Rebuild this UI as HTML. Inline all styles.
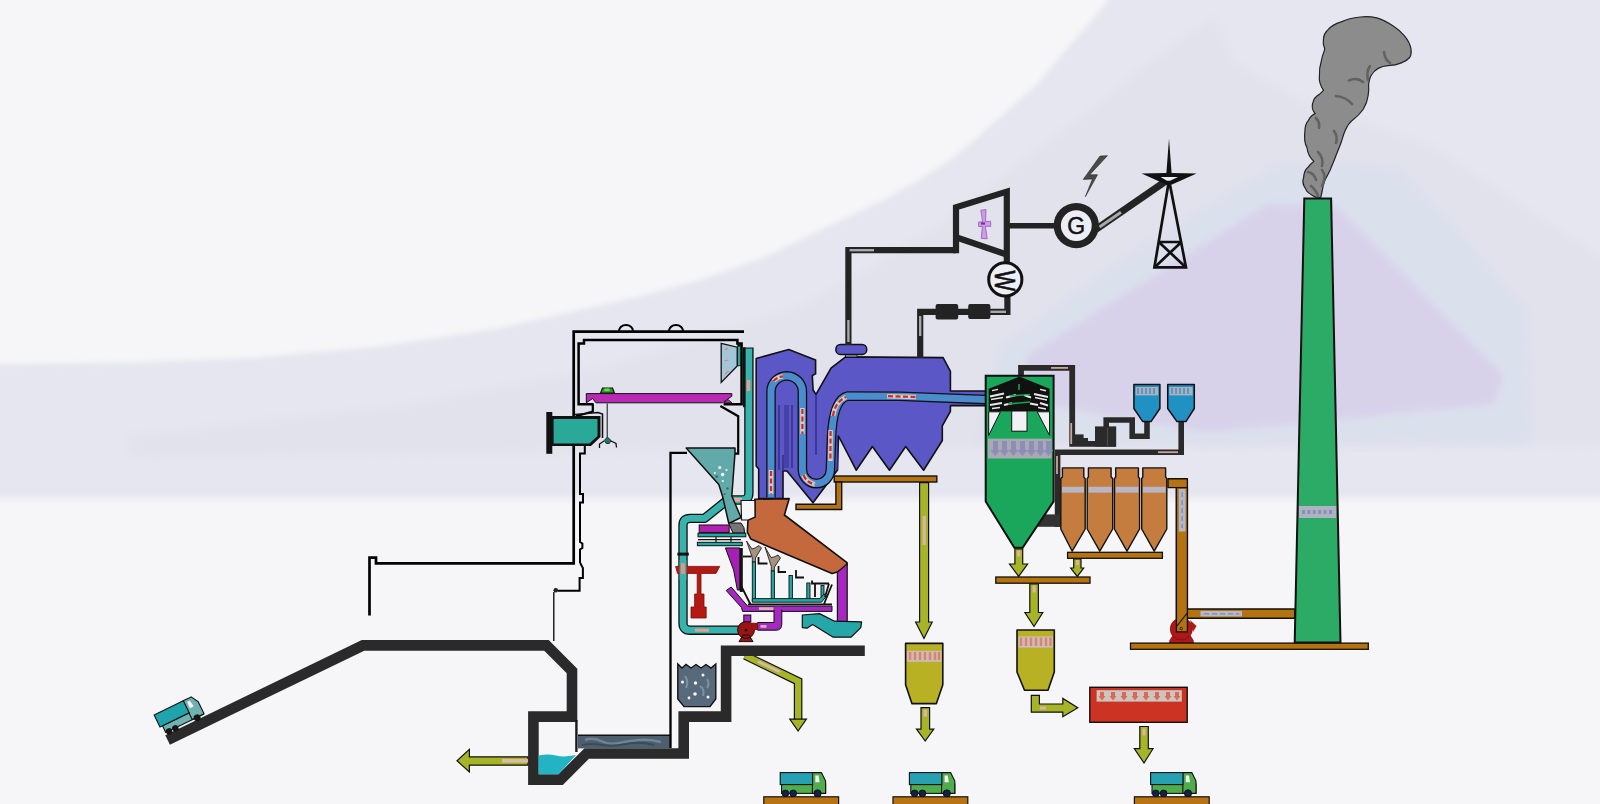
<!DOCTYPE html>
<html lang="en"><head><meta charset="utf-8"><title>Waste-to-energy plant</title>
<style>html,body{margin:0;padding:0;background:#f6f5f7;overflow:hidden}svg{display:block}</style>
</head><body>
<svg width="1600" height="804" viewBox="0 0 1600 804">
<!-- BACKGROUND -->
<defs>
<linearGradient id="fade" x1="0" y1="0" x2="0" y2="1"><stop offset="0" stop-color="#f6f5f7" stop-opacity="0"/><stop offset="1" stop-color="#f6f5f7" stop-opacity="1"/></linearGradient>
<filter id="soft" x="-5%" y="-10%" width="110%" height="120%"><feGaussianBlur stdDeviation="6"/></filter>
<filter id="soft2" x="-5%" y="-5%" width="110%" height="110%"><feGaussianBlur stdDeviation="2.5"/></filter>
<filter id="soft3" x="-5%" y="-10%" width="110%" height="120%"><feGaussianBlur stdDeviation="3.5"/></filter>
</defs>
<rect x="0" y="0" width="1600" height="804" fill="#f6f5f7"/>
<path filter="url(#soft2)" d="M-10,364 L0,364 L125,362.5 L250,358 L375,347 L450,336 L500,328 L575,311 L637,297 L700,280 L762,258 L825,228 L850,216 L887,198 L912,184 L950,160 L974,140 L1005,113 L1037,84 L1068,47 L1099,12 L1112,-6 L1610,-6 L1610,520 L-10,520 Z" fill="#e6e6f0"/>
<path filter="url(#soft)" d="M127,436 L410,404 L600,368 L800,306 L880,262 L953,215 L1037,149 L1099,103 L1161,53 L1215,15 L1232,60 L1300,100 L1432,146 L1610,262 L1610,446 L900,448 L127,458 Z" fill="#e2e2ec"/>
<path filter="url(#soft)" d="M975,444 L1000,345 L1150,238 L1280,162 L1400,166 L1530,312 L1532,444 Z" fill="#dbe0ed"/>
<path filter="url(#soft3)" d="M1027,356 L1268,204 L1336,206 L1504,376 L1494,404 L1208,432 L1027,402 Z" fill="#d8d1ea"/>
<rect x="0" y="493" width="1600" height="11" fill="url(#fade)"/>
<rect x="0" y="503.5" width="1600" height="26" fill="#f6f5f7"/>
<!-- OLIVE ARROWS UNDER PLATFORM -->
<g stroke-linejoin="miter">
<path d="M745,655.5 L798.1,681.3 L798.1,720" fill="none" stroke="#111" stroke-width="8.6"/>
<path d="M745,655.5 L798.1,681.3 L798.1,720" fill="none" stroke="#a6b528" stroke-width="6.2"/>
<path d="M758,661.5 L780,672" fill="none" stroke="#d8b8a8" stroke-width="2.6"/>
<path d="M789.8,719.2 L806.4,719.2 L798.1,731 Z" fill="#a6b528" stroke="#111" stroke-width="1.2"/>
<!-- left arrow -->
<path d="M528,756.8 L469.4,756.8 L469.4,749.4 L457,760.8 L469.4,771.9 L469.4,765.2 L528,765.2 Z" fill="#a6b528" stroke="#111" stroke-width="1.2"/>
<rect x="502" y="759" width="26" height="3.6" fill="#dcb9a8"/>
</g>
<!-- RAMP + PIT WALLS -->
<path d="M167.6,740 L363,645.4 L546.5,645.4 L572,671 L572,716.6 L533.4,716.6 L533.4,779.6 L560.6,779.6 L586.7,753.5 L683.7,753.5 L683.7,716.6 L726.1,716.6 L726.1,650.7 L864.8,650.7" fill="none" stroke="#2a2a2a" stroke-width="10.6" stroke-linejoin="miter"/>
<path d="M576.4,720 L576.4,752" stroke="#1a1a1a" stroke-width="2.4" fill="none"/>
<!-- water -->
<path d="M538.7,755.5 Q548,753.5 556,755.5 T576,755 L558.5,774.3 L538.7,774.3 Z" fill="#22b4c4"/>
<!-- slag channel -->
<rect x="578" y="735.2" width="92" height="13.2" fill="#4d5f6e"/>
<path d="M578,735.2 L670,735.2" stroke="#111" stroke-width="1.4"/>
<path d="M585,740 q8,-3 16,1 t18,2 t20,-3 t22,2" fill="none" stroke="#6f8494" stroke-width="2.5"/>
<path d="M582,745 q10,-2 20,0 t24,-1 t28,1" fill="none" stroke="#3c4b59" stroke-width="2"/>
<!-- slag bin -->
<path d="M677.8,664 L677.8,699 L684,706.6 L710,706.6 L715.8,699 L715.8,664 L711,668 L706,664.5 L701,668 L696,664.5 L691,668 L686,664.5 L682,668 Z" fill="#566a7b" stroke="#111" stroke-width="1.4"/>
<g fill="#f4f4f4"><circle cx="682.5" cy="682" r="1.6"/><circle cx="695.5" cy="683" r="1.7"/><circle cx="703" cy="675" r="1.5"/><circle cx="695" cy="694" r="1.8"/><circle cx="689" cy="698" r="1.4"/><circle cx="708" cy="697" r="1.5"/></g>
<path d="M685,676 q4,6 1,12 M700,686 q5,3 3,10 M707,679 q3,5 0,9" fill="none" stroke="#7d92a2" stroke-width="2"/>
<!-- long thin inner wall -->
<path d="M687,452.8 L670.5,452.8 L670.5,748" fill="none" stroke="#000" stroke-width="2.3"/>
<!-- BUILDING OUTLINES -->
<g fill="none" stroke="#000" stroke-linejoin="miter">
<path d="M744,331.7 L573.7,331.7 L573.7,563.4 L376,563.4 L376,557.6 L369.5,557.6 L369.5,615.5" stroke-width="2.7"/>
<path d="M619,331 a7,6 0 0 1 14,0 M669,331 a7,6 0 0 1 14,0" stroke-width="2.2"/>
<path d="M593.6,404.3 L578.6,404.3 L578.6,343.4 L584,343.4 L584,340.1 L737.4,340.1 L737.4,343.4 L741.6,343.4 L741.6,404.3 L723.6,404.3" stroke-width="2.5"/>
<path d="M592.8,404.3 L592.8,411.5 L576,416.2" stroke-width="2.2"/>
<path d="M720.4,406 L738.2,416.2 L738.2,453.6 L732.6,453.6" stroke-width="2.2"/>
<path d="M584.8,446 L584.8,453.6 L580,453.6 L580,494 L583,494 L583,502.4 L580,502.4 L580,542 L582.4,543.5 L582.4,548 L580,549.5 L580,563 M580.2,563 L582.9,568 L582.9,578 L579.6,578 L579.6,590.8 L558,590.8" stroke-width="2"/>
<path d="M553.8,592 L553.8,641" stroke-width="1.3"/>
</g>
<circle cx="555.8" cy="590.2" r="2.3" fill="#222"/>
<!-- teal door box -->
<rect x="546.3" y="412" width="6" height="41.8" fill="#111"/>
<path d="M552,416 L600.5,416 L600.5,437 L591,446 L552,446 Z" fill="#111"/>
<path d="M553.6,419 L597.5,419 L597.5,436 L589.4,443.4 L553.6,443.4 Z" fill="#2aa898"/>
<path d="M575,414.5 L598,412.5 L602.5,414 L602.5,438" fill="none" stroke="#111" stroke-width="1.6"/>
<!-- magenta crane beam -->
<path d="M586.3,393.6 L731.8,393.6 L731.8,396.2 L722.5,402.8 L596,402.8 L592.5,398.5 L586.3,402.8 Z" fill="#b82ab4" stroke="#111" stroke-width="1"/>
<path d="M724,402.8 L728,399.5 L732,402.8 Z" fill="#b82ab4" stroke="#111" stroke-width="0.8"/>
<!-- trolley -->
<path d="M600.5,393.2 L602.5,388 L612.5,388 L614.5,393.2 Z" fill="#2f9a2f" stroke="#111" stroke-width="1.2"/>
<rect x="604.5" y="388.5" width="5" height="2.6" fill="#5fe04f"/>
<path d="M607.2,403.5 L607.2,437" stroke="#111" stroke-width="1"/>
<path d="M607.3,437 l-3,3.5 l2,3 l3,0 l1.8,-3 Z" fill="#1a7a5a" stroke="#111" stroke-width="0.8"/>
<path d="M604,441 l-4.5,3 l0,4 M611,441 l5,2.5 l0.5,4" fill="none" stroke="#111" stroke-width="1.3"/>
<!-- air intake cone -->
<path d="M721.2,343.4 L737.2,347.2 L737.2,366 L721.2,382.4 Z" fill="#a3c6d8" stroke="#111" stroke-width="1.3"/>
<rect x="737.3" y="343.2" width="3.6" height="23" fill="#111"/><rect x="738" y="346.6" width="2.2" height="18.8" fill="#2aa89a"/>
<path d="M725,350 l3,-2 M724.5,361 l4,-1 M725,374 l3.5,-3" stroke="#e08070" stroke-width="1.2" fill="none"/>
<!-- BOILER -->
<path d="M756.2,358.4 L788.7,349.5 L815.6,360 L815.6,373.9 L812.3,375.5 L813.1,390 L816,394.4 L831,368.2 L845.6,356.9 L943.1,357.6 L950.4,371.4 L950.4,391 L985.6,391 L985.6,405.6 L950.4,405.6 L950.4,411.3 L942.3,425.9 L942.3,440.5 L923.6,470.2 L905.7,446.5 L889.5,470.2 L872.4,446.5 L856.2,470.2 L838.5,436 L837.5,470 L813,502.8 L787,471 L783,471 L783,498.6 L758.7,498.6 L758.7,469 L756.2,466 Z" fill="#5b57c6" stroke="#111" stroke-width="1.6" stroke-linejoin="round"/>
<path d="M816,394.4 L816,455 M837.5,436 L837.5,470 M779,405 L779,470 M792,405 L792,468 M783,471 L783,455" stroke="#2c2a80" stroke-width="1.3" fill="none"/>
<path d="M786.5,405 L786.5,468" stroke="#4640a8" stroke-width="5" fill="none"/>
<!-- flue channels -->
<path id="ch" d="M771,497.5 L771,391.6 A15.7,15.7 0 0 1 802.4,391.6 L802.4,469.6 A14,14 0 0 0 830.4,469.6 L831.5,438 Q833,399 848,396 L900,396.3 L985.6,399.6" fill="none" stroke="#111" stroke-width="9.6"/>
<path d="M771,497.5 L771,391.6 A15.7,15.7 0 0 1 802.4,391.6 L802.4,469.6 A14,14 0 0 0 830.4,469.6 L831.5,438 Q833,399 848,396 L900,396.3 L985.6,399.6" fill="none" stroke="#4a8ccc" stroke-width="7"/>
<!-- arrow patches -->
<g fill="none" stroke="#d4c8c8" stroke-width="4.6">
<path d="M771,470 L771,494"/><path d="M773.5,381 Q777,377 783,376.3"/><path d="M802.4,408 L802.4,434"/><path d="M803.5,475 Q807,483 815,484.4"/><path d="M830.6,430 L830.4,461"/><path d="M833,416 Q835,402 846,397"/><path d="M887,396.2 L916,397"/>
</g>
<g fill="none" stroke="#d22a22" stroke-width="2.2" stroke-dasharray="5 2.5">
<path d="M771,471 L771,494"/><path d="M773.5,381 Q777,377 783,376.3"/><path d="M802.4,409 L802.4,434"/><path d="M803.5,475 Q807,483 815,484.4"/><path d="M830.6,431 L830.4,461"/><path d="M833,416 Q835,402 846,397"/><path d="M888,396.2 L916,397"/>
</g>
<!-- steam drum -->
<rect x="845.6" y="353.4" width="11.4" height="3.6" fill="#9a98c8" stroke="#111" stroke-width="0.8"/>
<rect x="835.9" y="344.4" width="30.8" height="10" rx="4.5" fill="#5b57c6" stroke="#111" stroke-width="1.5"/>
<!-- teal supply pipe (right of bunker) -->
<g fill="none" stroke-linejoin="round">
<path d="M748.9,347.5 L748.9,493 Q748.9,500 742,500 L727.5,500 L704.5,518.4 L690,518.4 Q683,518.4 683,525.4 L683,623 Q683,630.2 690,630.2 L739,630.2" stroke="#111" stroke-width="9.4"/>
<path d="M748.9,348.6 L748.9,493 Q748.9,500 742,500 L727.5,500 L704.5,518.4 L690,518.4 Q683,518.4 683,525.4 L683,623 Q683,630.2 690,630.2 L739,630.2" stroke="#38b2ac" stroke-width="6.8"/>
</g>
<rect x="743" y="347.2" width="2.2" height="60" fill="#111"/>
<rect x="746.8" y="380" width="3.4" height="11" fill="#e0a090"/>
<rect x="733" y="497.8" width="9" height="4" fill="#e0a8a0"/>
<rect x="681" y="563" width="4" height="12" fill="#d89888"/>
<path d="M695,630.2 L709,630.2" stroke="#e0a090" stroke-width="3"/>
<rect x="677.4" y="552.6" width="11.4" height="3" fill="#111"/>
<!-- hopper -->
<path d="M686.2,448 L735,448 L735,453 L731.8,496 L741,517.5 L728.8,523.5 L722.6,496.5 L718.8,484.5 Z" fill="#62a9a9" stroke="#111" stroke-width="1.5" stroke-linejoin="round"/>
<g fill="#f2f2f2"><circle cx="719.8" cy="467.5" r="1.6"/><circle cx="722.6" cy="474.6" r="1.8"/><circle cx="726.5" cy="470" r="1.1"/><circle cx="714.8" cy="473" r="1"/><circle cx="722.8" cy="481" r="1.1"/></g>
<g fill="#3d6f70"><circle cx="716.6" cy="476.6" r="1.3"/><circle cx="727.5" cy="488.5" r="1.3"/><circle cx="724.6" cy="494" r="1"/></g>
<!-- FURNACE -->
<path d="M754.9,499.2 L789.2,498.6 L784.4,515 L847,562.6 Q847.5,566 844,568 L837.4,572 L832,573.6 L750.8,539 L747.3,532 L748,520 L755,517 Z" fill="#c4683e" stroke="#111" stroke-width="1.6" stroke-linejoin="round"/>
<!-- white throat box -->
<path d="M741,500.5 L754.9,500.5 L755,517 L748,520 L741.5,520 Z" fill="#f6f5f7" stroke="#111" stroke-width="1.2"/>
<!-- feeder -->
<rect x="699.2" y="525" width="30" height="7.4" fill="#b421b0" stroke="#111" stroke-width="1"/>
<path d="M728.6,523 L741,523 Q745,527 744.6,533 L733,533 Z" fill="#757575" stroke="#111" stroke-width="1"/>
<rect x="698" y="533.2" width="47.8" height="3.6" fill="#23a7a7" stroke="#111" stroke-width="1"/>
<rect x="697.4" y="542.3" width="44.8" height="3.4" fill="#23a7a7" stroke="#111" stroke-width="1"/>
<path d="M698,539.6 L741,539.6 M716,537 L716,542 M731,537 L731,542" stroke="#111" stroke-width="1.2" fill="none"/>
<!-- purple funnel -->
<path d="M725.4,547.9 L739.8,547.9 L739.8,590 L737.4,590 L733.6,570 Z" fill="#a51fb5" stroke="#111" stroke-width="1"/>
<rect x="739.8" y="548" width="3" height="44" fill="#111"/>
<!-- Y nozzles -->
<g fill="#a39280" stroke="#111" stroke-width="0.8">
<path d="M746.5,541 L752,549 L755,548 L759,545.5 L761.5,548 L755.5,558 L755.3,562 L752.3,562 L752.3,557.5 Z"/>
<path d="M765,547 L771,557.5 L774,557 L778,555 L780.5,558 L774.5,567 L774.3,571 L771.3,571 L771.3,566.5 Z"/>
</g>
<!-- teal thin pipes -->
<g fill="#23a7a7" stroke="#111" stroke-width="0.9">
<rect x="752.3" y="562" width="3.2" height="39"/><rect x="771.2" y="571" width="3.2" height="30"/><rect x="789" y="575.5" width="3.4" height="25.5"/><rect x="806.8" y="583" width="3.2" height="18"/><rect x="821" y="585.5" width="3" height="13"/>
<path d="M752.3,598.6 L820,598.6 L824,594 L826.5,596 L821.5,602.2 L752.3,602.2 Z"/>
</g>
<!-- black brackets -->
<g fill="none" stroke="#111" stroke-width="1.8">
<path d="M743,556.5 L751.5,556.5"/><path d="M758.5,557 L758.5,563.5 L767.5,563.5"/><path d="M778.5,566 L778.5,572 L786,572"/><path d="M796,570 L796,577.5 L804,577.5"/><path d="M812,580.5 L812,583.5 L829,583.5 M815,583.5 L815,597 M829,583.5 L825,597"/>
<path d="M741.2,586 L750.8,605 M832,584.5 L823.6,605 M748,604.4 L832,604.4"/>
</g>
<!-- purple pipes -->
<g>
<path d="M837.4,572.2 L847.2,563.8 L847.2,621.5 L837.4,621.5 Z" fill="#a528c0" stroke="#111" stroke-width="1.2"/>
<path d="M726.2,590.5 L741.5,607.5 L742.5,611.4 L832,611.4 L832,606 L781.8,606 L774,606 L747.5,606 L731.2,587 Z" fill="#a528c0" stroke="#111" stroke-width="1"/>
<path d="M774,610 L774,622.5 L757.6,622.5 L757.6,630.2 L776,630.2 Q781.8,630.2 781.8,624 L781.8,610 Z" fill="#a528c0" stroke="#111" stroke-width="1"/>
<rect x="774.6" y="606.6" width="6.6" height="5" fill="#a528c0"/>
<rect x="759" y="607.2" width="14.5" height="2.8" fill="#d8b0b8"/>
<rect x="760.5" y="625" width="6" height="2.8" fill="#d8b0b8"/>
<rect x="743.8" y="615" width="7" height="7" fill="#a528c0" stroke="#111" stroke-width="1"/>
</g>
<!-- pump -->
<path d="M739,641.6 L743,635 L749,635 L753,641.6 Z M737.6,630 a8.4,8.4 0 1 1 16.8,0 a8.4,8.4 0 1 1 -16.8,0 Z" fill="#9c1412" stroke="#111" stroke-width="1"/>
<path d="M746,622.8 L757.6,622.8 L757.6,630 L746,630 Z" fill="#9c1412"/>
<circle cx="746" cy="630.2" r="1.4" fill="#111"/>
<!-- red ram -->
<path d="M675.6,566.4 L719.8,566.4 L716,573.4 L701,573.4 L701,594 L704,594 L704,607 L706.2,607 L706.2,618 L691,618 L691,607 L694.6,607 L694.6,594 L697.2,594 L697.2,573.4 L677.5,573.4 Z" fill="#b41a14" stroke="#7a0e0a" stroke-width="0.8"/>
<!-- redraw pipe over ram -->
<path d="M683,560 L683,580" stroke="#38b2ac" stroke-width="6.8"/><rect x="681" y="563" width="4" height="11" fill="#d89888"/>
<!-- ash chute -->
<path d="M802.3,615 L819.5,613.6 L834.6,621.2 L861.6,621.9 L860.8,627.6 L851,637.2 L833.2,637.2 L812.6,624.6 L807,628.2 L802.3,627.6 Z" fill="#25a7a7" stroke="#111" stroke-width="1.2" stroke-linejoin="round"/>
<!-- boiler support platform -->
<g fill="#b47210" stroke="#111" stroke-width="1.4">
<rect x="834.2" y="476" width="102.6" height="6"/>
<path d="M835.9,482 L841.7,482 L841.7,509.5 L796,509.5 L796,504.2 L835.9,504.2 Z"/>
</g>
<!-- STEAM PIPES / TURBINE -->
<g fill="none" stroke="#232323" stroke-linejoin="miter">
<path d="M848.4,345 L848.4,250.2 L956,250.2" stroke-width="6.2"/>
<path d="M920.2,358 L920.2,311.8 L1007.4,311.8 L1007.4,296" stroke-width="6.2"/>
<path d="M956,253.2 L956,207.3 L1006.8,191.6 L1006.8,264" stroke-width="6.2"/>
<path d="M956,237.3 L1008,255" stroke-width="6.2"/>
<path d="M1009,225.8 L1057,225.8" stroke-width="5.6"/>
<path d="M1095.5,229.6 L1168,179.6" stroke-width="7.2"/>
</g>
<g fill="none" stroke="#a8a8ac" stroke-width="2.4">
<path d="M849.5,250.2 L874,250.2"/><path d="M848.4,320 L848.4,342"/><path d="M920.2,316 L920.2,336"/><path d="M984,311.8 L1006,311.8"/><path d="M1099.5,227 L1121,212.2" stroke-width="3"/>
</g>
<rect x="935.6" y="304" width="22.6" height="15.6" rx="2" fill="#232323"/>
<rect x="968.2" y="304" width="22.2" height="15" rx="2" fill="#232323"/>
<!-- propeller -->
<path d="M980.8,210.2 L986,209.6 L985.6,221.6 L990.6,221.2 L990.8,226.4 L985.4,226.2 L987.2,238.8 L981.2,238.4 L982.4,226.4 L978.6,226.6 L978.6,222 L982.6,221.8 Z" fill="#cf9be6" stroke="#8a4ab0" stroke-width="0.7"/><rect x="981" y="222.4" width="4" height="2.2" fill="#7a2a9a"/>
<!-- generator -->
<circle cx="1076.3" cy="225.6" r="19" fill="#eceef6" stroke="#232323" stroke-width="7.2"/>
<text x="1076.3" y="233.6" text-anchor="middle" font-family="'Liberation Sans',sans-serif" font-size="23" fill="#111" stroke="#111" stroke-width="0.5">G</text>
<!-- condenser -->
<circle cx="1005.3" cy="279.4" r="16.6" fill="#eeeff6" stroke="#111" stroke-width="3"/>
<text transform="translate(994.8,270.6) rotate(90) scale(0.97,1.32)" x="0" y="0" font-family="'Liberation Sans',sans-serif" font-size="22.5" fill="#111" stroke="#111" stroke-width="0.5">W</text>
<!-- lightning -->
<path d="M1100,156.1 L1107.4,155.7 L1089.7,174.8 L1097.5,174.8 L1085.4,196.6 L1092.5,178.9 L1083.2,179.4 Z" fill="#4a4a4a" stroke="#222" stroke-width="0.6"/>
<!-- pylon -->
<path d="M1169,138.4 L1171.6,173 L1196.6,173.4 L1172,184.4 L1166,184.4 L1141.6,173.4 L1166.4,173 Z" fill="#111"/>
<path d="M1160.5,177 L1178,177 L1170,180.8 L1167,180.8 Z" fill="#eceef6"/>
<g fill="none" stroke="#111" stroke-width="2.7">
<path d="M1168.4,184 L1154.4,267.4 L1186,267.4 L1169.8,184"/><path d="M1158.8,242 L1181.4,242 M1158.8,242 L1186,267.4 M1181.4,242 L1154.4,267.4"/>
</g>
<!-- SCRUBBER -->
<g fill="none" stroke="#2a2a2a" stroke-linejoin="miter">
<path d="M1021,377 L1021,367.9 L1072.2,367.9 L1072.2,443.8 L1116,443.8" stroke-width="5.8"/>
<path d="M1106.2,444 L1106.2,420 L1132.2,420 L1132.2,436.2 L1147,436.2 L1147,421" stroke-width="5.6"/>
<path d="M1181.2,421 L1181.2,452.2 L1057.6,452.2 L1057.6,527" stroke-width="5.6"/>
</g>
<rect x="1074" y="434.4" width="9.6" height="8" fill="#2a2a2a"/><rect x="1080" y="438" width="8" height="6" fill="#2a2a2a"/>
<rect x="1095" y="426.4" width="21.2" height="20.2" fill="#2a2a2a"/>
<path d="M1107.5,428 L1107.5,446" stroke="#4a4a4a" stroke-width="1.2"/>
<rect x="1036" y="514.4" width="24.6" height="12.4" fill="#333"/>
<g fill="none" stroke="#c8a89a" stroke-width="1.8"><path d="M1051,367.9 L1068,367.9"/><path d="M1071.2,423 L1071.2,444"/><path d="M1158,452.2 L1178,452.2"/><path d="M1057,456 L1057,474"/></g>
<path d="M985.7,375.8 L1053.6,375.8 L1053.6,501.4 L1022.6,547.8 L1014.4,547.8 L985.7,501.4 Z" fill="#1aa75c" stroke="#111" stroke-width="2"/>
<path d="M988.7,388.7 L1019.5,376.6 L1049.6,388.7 L1049.6,392.2 L988.7,392.2 Z" fill="#111"/>
<rect x="988.7" y="392" width="60.9" height="19.4" fill="#111"/>
<g stroke="#e8e8e8" stroke-width="2" fill="none">
<path d="M990,396.5 L1004,393.5 M1006,397.5 L1016,395 M1034,394 L1048,397 M1024,395 L1031,397.5"/>
<path d="M990,405 L1002,403 M1004,405 L1012,403.2 M1030,403.4 L1038,405 M1040,403 L1048,405.5"/>
</g>
<g stroke="#e8e8e8" stroke-width="1.4" fill="none"><path d="M991,399.5 L1003,397.5 M1035,397.5 L1047,400 M992,408.5 L1000,407.5 M1038,407.5 L1046,409 M992,390.6 L998,389.4 M1040,389.4 L1046,390.8"/></g>
<g stroke="#18a050" stroke-width="1.6" fill="none"><path d="M1010,396 L1030,394.5 M1008,404 L1030,402 M1019,384 L1019,390"/></g>
<path d="M988.7,411.8 L1000.4,411.8 L988.7,435.4 Z M1037.2,411.8 L1049.6,411.8 L1049.6,435.4 Z" fill="#f2f2f6" stroke="#111" stroke-width="1"/>
<rect x="1011.7" y="411" width="15.3" height="20.2" fill="#f2f2f6" stroke="#111" stroke-width="1"/>
<rect x="988" y="438.7" width="63.6" height="19.8" fill="#a9a9b3"/>
<g fill="#8d8db8"><path d="M991,441 h5 v9 h2.4 l-5,6 l-5,-6 h2.6z" transform="translate(2,0)"/><path d="M991,441 h5 v9 h2.4 l-5,6 l-5,-6 h2.6z" transform="translate(11,0)"/><path d="M991,441 h5 v9 h2.4 l-5,6 l-5,-6 h2.6z" transform="translate(20,0)"/><path d="M991,441 h5 v9 h2.4 l-5,6 l-5,-6 h2.6z" transform="translate(29,0)"/><path d="M991,441 h5 v9 h2.4 l-5,6 l-5,-6 h2.6z" transform="translate(38,0)"/><path d="M991,441 h5 v9 h2.4 l-5,6 l-5,-6 h2.6z" transform="translate(47,0)"/><path d="M991,441 h5 v9 h2.4 l-5,6 l-5,-6 h2.6z" transform="translate(55,0)"/></g>
<!-- blue reagent hoppers -->
<g fill="#2190c2" stroke="#111" stroke-width="1.5" stroke-linejoin="round">
<path d="M1133.9,384.4 L1159.9,384.4 L1159.9,408.5 L1151,421.6 L1142.8,421.6 L1133.9,408.5 Z"/>
<path d="M1167.7,384.4 L1194.3,384.4 L1194.3,408.5 L1185.9,421.6 L1177,421.6 L1167.7,408.5 Z"/>
</g>
<rect x="1135.6" y="387" width="22.6" height="8.4" fill="#9fb6c8"/><rect x="1169.4" y="387" width="23.2" height="8.4" fill="#9fb6c8"/>
<path d="M1138,388 v6 M1142,388 v6 M1146,388 v6 M1150,388 v6 M1154,388 v6 M1172,388 v6 M1176,388 v6 M1180,388 v6 M1184,388 v6 M1188,388 v6" stroke="#6a84a8" stroke-width="1.6"/>
<!-- BAG FILTERS -->
<g fill="#c57d3f" stroke="#111" stroke-width="1.4" stroke-linejoin="round">
<path d="M1062.4,467.9 L1083.8,467.9 L1083.8,477 L1085.2,478.6 L1085.2,529 L1072.2,551.2 L1060.8,529 L1060.8,478.6 L1062.4,477 Z"/>
<path d="M1088.4,467.9 L1111.1,467.9 L1111.1,477 L1112.7,478.6 L1112.7,529 L1099.8,551.2 L1087.2,529 L1087.2,478.6 L1088.4,477 Z"/>
<path d="M1115.7,467.9 L1138.4,467.9 L1138.4,477 L1139.6,478.6 L1139.6,529 L1127,551.2 L1114.4,529 L1114.4,478.6 L1115.7,477 Z"/>
<path d="M1142.8,467.9 L1165.6,467.9 L1165.6,477 L1166.8,478.6 L1166.8,529 L1154.2,551.2 L1141.7,529 L1141.7,478.6 L1142.8,477 Z"/>
</g>
<g fill="#b9b7c6"><rect x="1062" y="486.8" width="22" height="5.8"/><rect x="1088.6" y="486.8" width="23" height="5.8"/><rect x="1115.8" y="486.8" width="22.6" height="5.8"/><rect x="1143" y="486.8" width="22.6" height="5.8"/></g>
<rect x="1067.6" y="552.3" width="94.8" height="6" fill="#b47210" stroke="#111" stroke-width="1.3"/>
<rect x="995.8" y="577" width="94.2" height="6.2" fill="#b47210" stroke="#111" stroke-width="1.3"/>
<!-- duct to fan -->
<path d="M1168,478.7 L1187.4,478.7 L1187.4,609 L1294.7,609 L1294.7,618.2 L1187.4,618.2 L1187.4,620 L1176.4,626 L1176.4,487.6 L1168,487.6 Z" fill="#b47210" stroke="#111" stroke-width="1.4" stroke-linejoin="round"/>
<!-- fan -->
<path d="M1170,640 L1174,634 L1189,634 L1193,640 L1193.5,643 L1169.5,643 Z" fill="#b01818" stroke="#7c0c0c" stroke-width="0.8"/>
<path d="M1170.3,629 a11,11 0 1 1 22,0 a11,11 0 1 1 -22,0 Z" fill="#b01818" stroke="#7c0c0c" stroke-width="0.8"/>
<path d="M1190,620 L1196.5,626 L1193,632 Z" fill="#b01818"/>
<path d="M1176.4,487.6 L1187.4,487.6 L1187.4,612 L1187.4,631.8 L1176.4,631.8 Z" fill="#b47210" stroke="#111" stroke-width="1.3"/>
<path d="M1177,626 L1188,612" stroke="#111" stroke-width="1.2"/>
<circle cx="1181.2" cy="628.6" r="1.3" fill="none" stroke="#111" stroke-width="0.8"/>
<rect x="1178.8" y="489" width="6.8" height="42.5" fill="#b4b8c4"/>
<rect x="1200.5" y="611" width="41.5" height="5.4" fill="#b4b8c8"/>
<path d="M1182.2,492 v36 M1204,613.7 h35" stroke="#8890b8" stroke-width="1.6" stroke-dasharray="5 3"/>
<!-- chimney platform -->
<rect x="1130.5" y="643.1" width="237.8" height="6.2" fill="#b47210" stroke="#111" stroke-width="1.3"/>
<!-- CHIMNEY -->
<path d="M1304.3,198.4 L1331.1,198.4 L1340.5,642.6 L1294.7,642.6 Z" fill="#2bab65" stroke="#111" stroke-width="2" stroke-linejoin="miter"/>
<rect x="1299" y="506" width="37.2" height="12" fill="#adb3c2"/>
<path d="M1302,512 h32" stroke="#8890b8" stroke-width="4" stroke-dasharray="3 2.4"/>
<!-- SMOKE -->
<path d="M1316.6,197.6 C1311,195 1306,192 1305.7,188.8 C1302,184 1302.5,181 1303.5,177.9 C1304,172 1305,169 1308.4,166.9 C1310,164 1312,163 1313.9,161.4 C1309,157 1307.5,152 1307,147.8 C1304,142 1304.3,136 1304.9,131.3 C1305,126 1306,123 1308.4,120.4 C1310,117 1312,115 1315.2,113.6 C1312,110 1311.8,107 1312.5,104 C1313.5,99 1316,96 1319.4,94.4 L1323.5,90.3 C1320,85 1319,80 1319.4,76.6 C1319,70 1320,65 1321.5,60.2 C1322,56 1323.5,53 1324.8,49.3 C1323,45 1322.8,42 1323.5,38.3 C1324,34 1325.5,32 1327.6,30.1 C1331,26 1336,23.5 1341.2,21.9 C1347,19 1354,17.6 1360.4,17 C1366,16.4 1372,16.8 1376.8,17.8 C1383,19.5 1388,22.5 1393.2,26 C1398,29 1401,32 1404.2,35.6 C1408,40 1410.5,45 1411,49.3 C1411.5,53 1411,55.5 1409.7,57.5 C1407,60.5 1404,62 1401.4,62.9 C1397,64.8 1392,65.5 1387.8,65.7 C1384,66 1381,67 1378.2,68.4 C1375,70 1373,72.5 1371.3,75.2 C1369.5,78 1369,81.5 1368.6,84.8 C1369,89 1368.8,92 1368.1,95.8 C1367.5,101 1365.5,105.5 1363.1,109.5 C1360,114 1356,117.5 1352.2,120.4 C1349,123 1347,126.5 1345.4,130 C1343.5,134 1342.5,138 1341.2,142.3 C1339.5,147 1337.5,151.5 1335.8,156 C1334,161 1332,165.5 1330.3,169.7 C1328.5,173.5 1326.5,177 1324.8,180.6 C1323.5,184 1322.6,188 1322.1,191.5 L1320.7,197.6 Z" fill="#8c8c8c" stroke="#222" stroke-width="1.2" stroke-linejoin="round"/>
<g fill="none" stroke="#626262" stroke-width="2.6" stroke-linecap="round">
<path d="M1349,80.5 Q1357,77 1363,82"/><path d="M1384,52 Q1385,60 1390,63"/><path d="M1370,66 Q1366,72 1368,80"/><path d="M1336,96 Q1346,97 1352,104"/><path d="M1316,118 Q1320,122 1319,128"/><path d="M1334,131 Q1338,136 1336,143"/><path d="M1318,152 Q1324,158 1322,166"/><path d="M1308,172 Q1314,173 1316,180"/><path d="M1322,170 Q1327,176 1322,186"/><path d="M1311,186 Q1316,190 1318,196"/>
</g>
<!-- ARROWS / SILOS -->
<g fill="#a6b528" stroke="#111" stroke-width="1.2" stroke-linejoin="miter">
<path d="M919.6,482.6 L928.6,482.6 L928.6,622 L932.2,622 L924,638.4 L915.6,622 L919.6,622 Z"/>
<path d="M921,707.6 L929.6,707.6 L929.6,729.2 L933.8,729.2 L925.2,741 L916.5,729.2 L921,729.2 Z"/>
<path d="M1014.9,548.8 L1022.7,548.8 L1022.7,564 L1027.6,564 L1018.6,576.4 L1009.5,564 L1014.9,564 Z"/>
<path d="M1073.7,558.8 L1081,558.8 L1081,568 L1083.7,568 L1077.3,576.4 L1070.7,568 L1073.7,568 Z"/>
<path d="M1029.8,583.8 L1038.4,583.8 L1038.4,612.5 L1042.8,612.5 L1034,626.5 L1024.9,612.5 L1029.8,612.5 Z"/>
<path d="M1031.3,695.4 L1039.4,695.4 L1039.4,704 L1062.8,704 L1062.8,698.4 L1077.8,707.8 L1062.8,716.8 L1062.8,712.2 L1031.3,712.2 Z"/>
<path d="M1139.8,726.5 L1148.3,726.5 L1148.3,748.7 L1153,748.7 L1144,763 L1134.3,748.7 L1139.8,748.7 Z"/>
</g>
<g fill="#dcb4a4"><rect x="922.6" y="516" width="3.2" height="29"/><rect x="923.6" y="709.5" width="3.4" height="7"/><rect x="1017.2" y="550.5" width="3" height="6"/><rect x="1076" y="560" width="2.8" height="5"/><rect x="1032.6" y="585.5" width="3" height="7"/><rect x="1040" y="706.6" width="6" height="2.8"/><rect x="1142.5" y="728.5" width="3" height="7"/></g>
<!-- silo 1 -->
<path d="M905.6,643.4 L942.8,643.4 L942.8,684.8 L936.4,703.6 L911.9,703.6 L905.6,684.8 Z" fill="#b9b124" stroke="#111" stroke-width="1.6" stroke-linejoin="round"/>
<rect x="907" y="650.8" width="34.4" height="11" fill="#c9bfb8"/>
<path d="M910,652 v8 M915,652 v8 M920,652 v8 M925,652 v8 M930,652 v8 M935,652 v8 M939,652 v8" stroke="#e08070" stroke-width="2.4"/>
<!-- silo 2 -->
<path d="M1017,630 L1054.3,630 L1054.3,672 L1048,690.2 L1024.5,690.2 L1017,672 Z" fill="#b9b124" stroke="#111" stroke-width="1.6" stroke-linejoin="round"/>
<rect x="1018.4" y="636.4" width="34.6" height="11.2" fill="#c9bfb8"/>
<path d="M1021,637.5 v8.5 M1026,637.5 v8.5 M1031,637.5 v8.5 M1036,637.5 v8.5 M1041,637.5 v8.5 M1046,637.5 v8.5 M1050.5,637.5 v8.5" stroke="#e08070" stroke-width="2.4"/>
<!-- red box -->
<rect x="1089.8" y="687.3" width="97.4" height="35" fill="#cc3322" stroke="#111" stroke-width="1.4"/>
<rect x="1096.6" y="690.2" width="85.2" height="11.4" fill="#cdc6c0"/>
<path d="M1102,692 v5 M1113,692 v5 M1124,692 v5 M1135,692 v5 M1146,692 v5 M1157,692 v5 M1168,692 v5 M1177,692 v5" stroke="#d86a58" stroke-width="4"/>
<path d="M1098.5,696 l3.5,4.6 l3.5,-4.6z M1109.5,696 l3.5,4.6 l3.5,-4.6z M1120.5,696 l3.5,4.6 l3.5,-4.6z M1131.5,696 l3.5,4.6 l3.5,-4.6z M1142.5,696 l3.5,4.6 l3.5,-4.6z M1153.5,696 l3.5,4.6 l3.5,-4.6z M1164.5,696 l3.5,4.6 l3.5,-4.6z M1173.5,696 l3.5,4.6 l3.5,-4.6z" fill="#d86a58"/>
<!-- TRUCKS -->
<g id="truck">
<rect x="781.6" y="784" width="44" height="9.4" fill="#4fae4c" stroke="#111" stroke-width="1.1"/>
<path d="M812.4,772.6 L821.4,772.6 L825.6,781 L825.6,793.4 L812.4,793.4 Z" fill="#4fae4c" stroke="#111" stroke-width="1.1" stroke-linejoin="round"/>
<path d="M815.4,775.4 L818.6,775.4 L819.6,782.2 L815.4,782.2 Z" fill="#f4f4f4"/>
<rect x="780.2" y="772.6" width="32.4" height="12" fill="#27a0b2" stroke="#111" stroke-width="1.1"/>
<circle cx="785.4" cy="793.4" r="3.4" fill="#16204a" stroke="#0a0a0a" stroke-width="0.8"/><circle cx="793.2" cy="793.4" r="3.4" fill="#16204a" stroke="#0a0a0a" stroke-width="0.8"/><circle cx="817.6" cy="793.4" r="3.6" fill="#16204a" stroke="#0a0a0a" stroke-width="0.8"/>
</g>
<use href="#truck" x="129.2" y="0"/>
<use href="#truck" x="370.4" y="0"/>
<g fill="#b87414" stroke="#111" stroke-width="1.2">
<rect x="763.8" y="796.8" width="74.8" height="8"/><rect x="893" y="796.8" width="74.8" height="8"/><rect x="1134.4" y="796.8" width="74.8" height="8"/>
</g>
<!-- ramp truck -->
<g transform="translate(180.5,717) rotate(-25.9) translate(-803,-786)">
<rect x="783" y="786" width="42" height="7.5" fill="#6fb0b0" stroke="#111" stroke-width="1.1"/>
<path d="M812.4,772.6 L821.4,772.6 L825.6,780 L825.6,793.4 L812.4,793.4 Z" fill="#6fb0b0" stroke="#111" stroke-width="1.1" stroke-linejoin="round"/>
<path d="M815.4,775.4 L818.6,775.4 L819.6,782.2 L815.4,782.2 Z" fill="#f4f4f4"/>
<rect x="780.2" y="772.6" width="32.4" height="13.4" fill="#21a3ad" stroke="#111" stroke-width="1.1"/>
<circle cx="786.4" cy="794" r="3.2" fill="#151515"/><circle cx="793.4" cy="794" r="3.2" fill="#151515"/><circle cx="817.6" cy="794" r="3.4" fill="#151515"/>
</g>
</svg></body></html>
